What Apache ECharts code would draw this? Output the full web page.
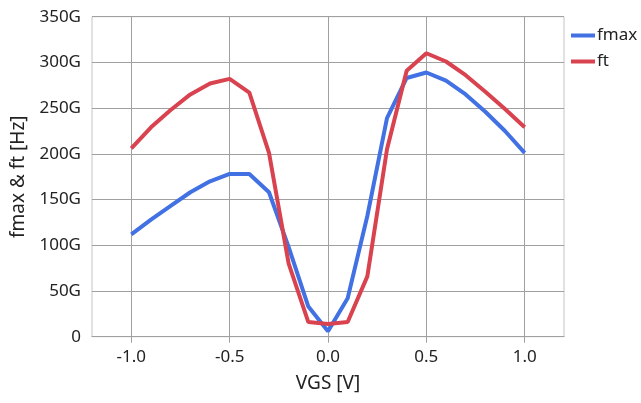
<!DOCTYPE html>
<html>
<head>
<meta charset="utf-8">
<script src="https://cdn.jsdelivr.net/npm/echarts@6/dist/echarts.min.js"></script>
<style>
html,body{margin:0;padding:0;background:#fff;}
#chart{width:641px;height:403px;}
</style>
</head>
<body>
<div id="chart"></div>
<script>
const vgs = [-1.0,-0.9,-0.8,-0.7,-0.6,-0.5,-0.4,-0.3,-0.2,-0.1,0.0,0.1,0.2,0.3,0.4,0.5,0.6,0.7,0.8,0.9,1.0];
const fmax = [112,128,143,158,170,178,178,158,98,33,6,42,132,239,283,289,280,265,246,225,201];
const ft = [206,229,248,265,277,282,267,201,80,16,14,16,66,205,291,310,301,286,268,249,229];
const xTicks = [-1.0,-0.5,0.0,0.5,1.0];

const font = '"Noto Sans", "Open Sans", sans-serif';
const gridCol = '#a0a0a0';
const chart = echarts.init(document.getElementById('chart'));
chart.setOption({
  animation:false,
  textStyle:{fontFamily:font},
  grid:{left:92,right:77,top:16.7,bottom:66.3,show:true,borderColor:'#c4c4c4',borderWidth:1,
        outerBoundsMode:'none',containLabel:false},
  legend:{
    orient:'vertical', left:566, top:22, itemWidth:24, itemHeight:4, itemGap:9,
    icon:'rect',
    textStyle:{fontSize:17,color:'#222',fontFamily:font, padding:[0,0,0,-3]},
    data:['fmax','ft']
  },
  xAxis:{
    type:'value', min:-1.2, max:1.2,
    name:'VGS [V]', nameLocation:'middle', nameGap:37,
    nameTextStyle:{fontSize:19,color:'#222',fontFamily:font},
    axisLine:{show:true,onZero:false,lineStyle:{color:gridCol}},
    axisTick:{show:true,length:6,customValues:xTicks,lineStyle:{color:gridCol}},
    axisLabel:{customValues:xTicks,fontSize:17,color:'#222',margin:12,
      formatter:v=>v.toFixed(1)},
    splitLine:{show:true,lineStyle:{color:gridCol,width:1}}
  },
  yAxis:{
    type:'value', min:0, max:350, interval:50,
    name:'fmax & ft [Hz]', nameLocation:'middle', nameGap:63,
    nameTextStyle:{fontSize:19,color:'#222',fontFamily:font},
    axisLine:{show:true,lineStyle:{color:gridCol}},
    axisTick:{show:true,length:6,lineStyle:{color:gridCol}},
    axisLabel:{fontSize:17,color:'#222',margin:11,
      formatter:v=> v===0 ? '0' : v+'G'},
    splitLine:{show:true,lineStyle:{color:gridCol,width:1}}
  },
  series:[
    {name:'fmax',type:'line',data:vgs.map((x,i)=>[x,fmax[i]]),showSymbol:false,
     lineStyle:{width:4,color:'#4171E2'},itemStyle:{color:'#4171E2'}},
    {name:'ft',type:'line',data:vgs.map((x,i)=>[x,ft[i]]),showSymbol:false,
     lineStyle:{width:4,color:'#D94350'},itemStyle:{color:'#D94350'}}
  ]
});
</script>
</body>
</html>
